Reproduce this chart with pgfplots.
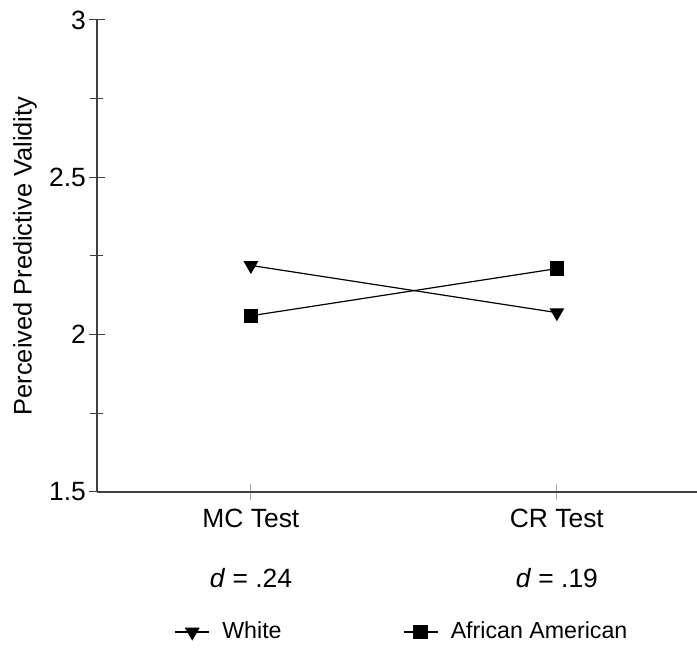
\documentclass[border=0pt]{standalone}
\usepackage{fontspec}
\setmainfont{Liberation Sans}
\usepackage{pgfplots}
\pgfplotsset{compat=1.18}
\usetikzlibrary{calc}

\begin{document}
\fontsize{13.2}{15.8}\selectfont
\begin{tikzpicture}
\begin{axis}[
  name=ax,
  scale only axis,
  width=300pt, height=236pt,
  xmin=-0.503, xmax=1.458,
  ymin=1.5, ymax=3,
  axis lines=left,
  axis line style={-, draw=black!75, line width=0.6pt},
  xtick={0,1},
  xticklabels={{MC Test\\[14pt]\textit{d} = .24},{CR Test\\[14pt]\textit{d} = .19}},
  xticklabel style={align=center},
  ytick={1.5,2,2.5,3},
  yticklabels={1.5,2,2.5,3},
  yticklabel style={xshift=3pt},
  minor ytick={1.75,2.25,2.75},
  tick align=center,
  major tick length=8pt,
  minor tick length=6.5pt,
  xtick style={draw=black!35, line width=0.5pt},
  ytick style={draw=black!75, line width=0.5pt},
  every minor tick/.append style={draw=black!30},
  /pgf/number format/assume math mode=true,
  ylabel={Perceived Predictive Validity},
  ylabel style={at={(axis description cs:-0.12,0.5)}, anchor=center,
    font=\fontsize{12.7}{15}\selectfont},
  legend style={at={(0.517,-0.2966)}, anchor=center, draw=none, fill=none,
    font=\fontsize{11.6}{14}\selectfont,
    nodes={inner xsep=6.2pt},
    /tikz/every even column/.append style={column sep=54.5pt}},
  legend columns=2,
  legend cell align=left,
]
\addplot[black, line width=0.6pt, mark=triangle*, mark size=3.7pt,
  mark options={rotate=180, solid}] coordinates {(0,2.22) (1,2.07)};
\addlegendentry{White}
\addplot[black, line width=0.6pt, mark=square*, mark size=3.3pt] coordinates {(0,2.06) (1,2.21)};
\addlegendentry{African American}
\end{axis}
\pgfresetboundingbox
\path ($(ax.south west)+(-48.5pt,-80pt)$) rectangle ($(ax.north east)+(0,10pt)$);
\end{tikzpicture}
\end{document}
